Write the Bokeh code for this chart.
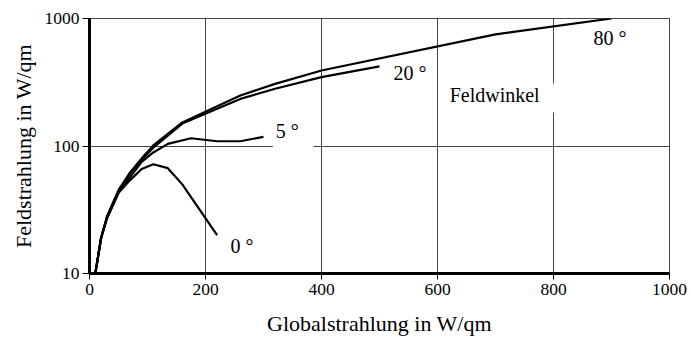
from bokeh.plotting import figure
from bokeh.models import Range1d, FixedTicker, Label, NumeralTickFormatter
from bokeh.embed import file_html
from bokeh.resources import INLINE

# Globalstrahlung (W/qm) vs Feldstrahlung (W/qm) for different Feldwinkel
x_80 = [10, 20, 30, 50, 70, 90, 110, 160, 260, 320, 400, 700, 900]
y_80 = [10, 19, 28, 45, 62, 80, 101, 153, 249, 307, 391, 750, 1000]

x_20 = [10, 20, 30, 50, 70, 90, 110, 160, 260, 320, 400, 500]
y_20 = [10, 19, 27.5, 44, 61, 78, 97, 150, 234, 281, 347, 421]

x_5 = [10, 20, 30, 50, 70, 90, 110, 135, 175, 220, 260, 300]
y_5 = [10, 19, 27, 43, 57, 75, 89, 104, 115, 109, 109, 118]

x_0 = [10, 20, 30, 50, 70, 90, 110, 135, 160, 220]
y_0 = [10, 19, 27, 43, 54, 66, 72, 67, 50, 20]

x_ticks = [0, 200, 400, 600, 800, 1000]
y_ticks = [10, 100, 1000]

FONT = "Liberation Serif"

p = figure(width=691, height=338, y_axis_type="log",
           x_range=Range1d(0, 1000), y_range=Range1d(10, 1000),
           output_backend="svg", toolbar_location=None,
           min_border_left=89, min_border_right=22,
           min_border_top=18, min_border_bottom=65)
p.background_fill_color = "white"
p.border_fill_color = "white"
p.outline_line_color = "#444444"
p.outline_line_width = 1

# grid
p.xgrid.ticker = FixedTicker(ticks=[200, 400, 600, 800, 1000])
p.ygrid.ticker = FixedTicker(ticks=[100, 1000])
for g in (p.xgrid, p.ygrid):
    g.grid_line_color = "#444444"
    g.grid_line_width = 1
    g.grid_line_alpha = 1

# axes
p.xaxis.ticker = FixedTicker(ticks=x_ticks)
p.yaxis.ticker = FixedTicker(ticks=y_ticks)
p.yaxis.formatter = NumeralTickFormatter(format="0")
p.xaxis.formatter = NumeralTickFormatter(format="0")
for ax in (p.xaxis, p.yaxis):
    ax.axis_line_color = "black"
    ax.axis_line_width = 3
    ax.major_tick_line_color = "black"
    ax.major_tick_line_width = 1
    ax.major_tick_in = 0
    ax.minor_tick_line_color = None
    ax.major_label_text_font = FONT
    ax.major_label_text_font_size = "17.5px"
    ax.major_label_text_color = "black"
    ax.axis_label_text_font = FONT
    ax.axis_label_text_font_size = "22px"
    ax.axis_label_text_font_style = "normal"
    ax.axis_label_text_color = "black"
p.yaxis.major_tick_out = 7
p.xaxis.major_tick_out = 6
p.yaxis.major_label_standoff = 3
p.xaxis.major_label_standoff = 4
p.xaxis.axis_label = "Globalstrahlung in W/qm"
p.yaxis.axis_label = "Feldstrahlung in W/qm"
p.xaxis.axis_label_standoff = 13
p.yaxis.axis_label_standoff = 6

# white label boxes hiding grid lines
p.quad(left=[316, 605], right=[386, 803], bottom=[89, 183], top=[164, 309],
       fill_color="white", line_color=None)

# curves
for xs, ys in ((x_80, y_80), (x_20, y_20), (x_5, y_5), (x_0, y_0)):
    p.line(xs, ys, line_color="black", line_width=2.2)

labels = [("80 °", 869, 697), ("20 °", 524, 377), ("5 °", 321, 130),
          ("0 °", 243, 16.3), ("Feldwinkel", 621, 251)]
for t, lx, ly in labels:
    p.add_layout(Label(x=lx, y=ly, text=t, text_font=FONT,
                       text_font_size="20px", text_color="black",
                       text_align="left", text_baseline="middle"))

open("out.html", "w").write(file_html(p, INLINE))
